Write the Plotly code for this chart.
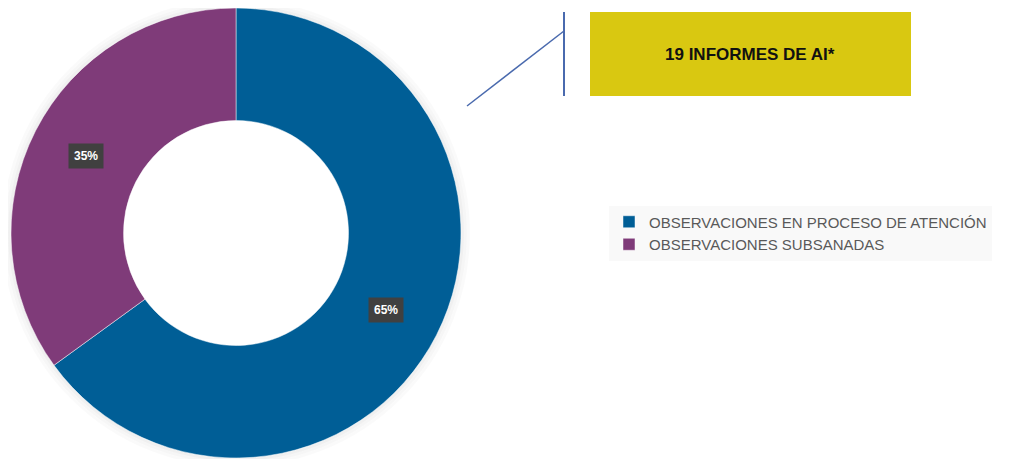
import math
import plotly.graph_objects as go

# ---- data ----
labels = ["OBSERVACIONES EN PROCESO DE ATENCIÓN", "OBSERVACIONES SUBSANADAS"]
values = [65, 35]
slice_colors = ["#005E96", "#7F3B79"]
callout_text = "19 INFORMES DE AI*"

# page has an 8px body margin: figure pixel = page pixel - 8
OFF = 8
W, H = 1008, 451


def px(x):
    return (x - OFF) / W


def py(y):
    return (H - (y - OFF)) / H


cx_p, cy_p, R = 236, 233, 225   # donut centre (page px) and outer radius
hole = 0.5

fig = go.Figure()
fig.add_trace(go.Pie(
    labels=labels,
    values=values,
    hole=hole,
    sort=False,
    direction="clockwise",
    rotation=0,
    marker=dict(colors=slice_colors, line=dict(color="rgba(255,255,255,0.6)", width=0.8)),
    textinfo="none",
    hoverinfo="label+percent",
    domain=dict(x=[px(cx_p - R), px(cx_p + R)], y=[max(0, py(cy_p + R)), min(1, py(cy_p - R))]),
))

# soft shadow ring around the donut
shapes = []
for dr, op in [(7.5, 0.02), (4.5, 0.035), (1.5, 0.06)]:
    shapes.append(dict(type="circle", xref="paper", yref="paper", layer="below",
                       x0=px(cx_p - R - dr), x1=px(cx_p + R + dr),
                       y0=py(cy_p + R + dr), y1=py(cy_p - R - dr),
                       line=dict(width=3, color=f"rgba(0,0,0,{op})"), fillcolor="rgba(0,0,0,0)"))

# callout box and connector lines
shapes.append(dict(type="rect", xref="paper", yref="paper",
                   x0=px(590), x1=px(911), y0=py(96), y1=py(12),
                   fillcolor="#D9C811", line=dict(width=0)))
shapes.append(dict(type="line", xref="paper", yref="paper",
                   x0=px(467), y0=py(106), x1=px(564), y1=py(31),
                   line=dict(color="#4A6AAE", width=1.5)))
shapes.append(dict(type="line", xref="paper", yref="paper",
                   x0=px(564), y0=py(12), x1=px(564), y1=py(96),
                   line=dict(color="#4A6AAE", width=2)))

annotations = [dict(text=f"<b>{callout_text}</b>", xref="paper", yref="paper",
                    x=px(750), y=py(54), xanchor="center", yanchor="middle", showarrow=False,
                    font=dict(family="Liberation Sans, Arial", size=17, color="#111111"))]

# percentage labels placed at the middle of each ring segment
total = sum(values)
rmid = R * (1 + hole) / 2
start = 0.0
for v in values:
    mid = start + v / total * 360 / 2
    a = math.radians(mid)
    lx = cx_p + rmid * math.sin(a)
    ly = cy_p - rmid * math.cos(a)
    annotations.append(dict(text=f"<b>{round(v / total * 100)}%</b>", xref="paper", yref="paper",
                            x=px(lx), y=py(ly), xanchor="center", yanchor="middle", showarrow=False,
                            bgcolor="#404040", borderpad=5,
                            font=dict(family="Liberation Sans, Arial", size=12, color="white")))
    start += v / total * 360

fig.update_layout(
    width=W, height=H,
    margin=dict(l=0, r=0, t=0, b=0),
    paper_bgcolor="white",
    plot_bgcolor="white",
    shapes=shapes,
    annotations=annotations,
    showlegend=True,
    legend=dict(x=px(609), y=py(233), xanchor="left", yanchor="middle",
                bgcolor="#F9F9F9",
                font=dict(family="Liberation Sans, Arial", size=15, color="#595959"),
                traceorder="normal"),
)

fig.write_html("out.html")
